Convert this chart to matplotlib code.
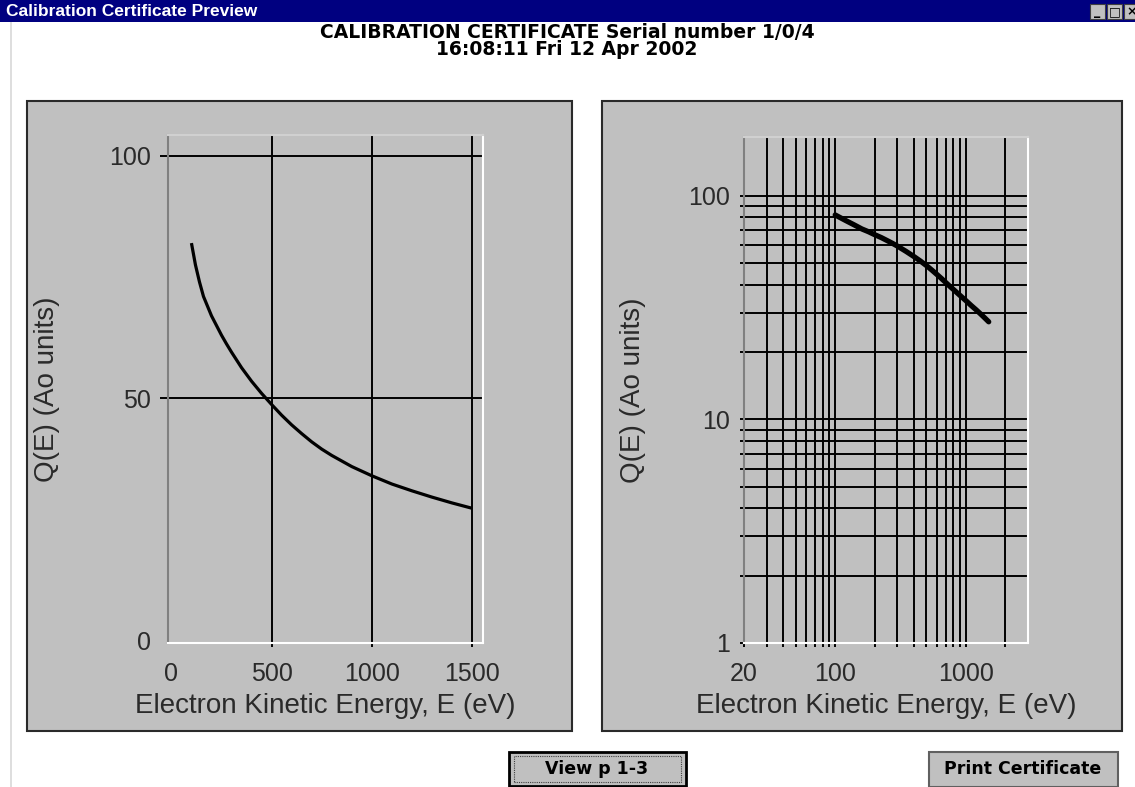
import matplotlib.pyplot as plt
from matplotlib.patches import Rectangle
import numpy as np

plt.rcParams['font.family'] = ['Liberation Sans', 'DejaVu Sans']

# calibration data
energy = [100, 120, 140, 160, 180, 200, 225, 250, 275, 300, 350, 400, 450,
          500, 550, 600, 650, 700, 750, 800, 900, 1000, 1100, 1200, 1300,
          1400, 1500]
q_e = [82, 77.5, 74, 71, 69, 67, 65, 63, 61.2, 59.5, 56.3, 53.5, 51,
       48.7, 46.5, 44.5, 42.7, 41.0, 39.5, 38.2, 35.9, 34, 32.3, 30.9, 29.6,
       28.4, 27.3]

lin_xticks = [0, 500, 1000, 1500]
lin_yticks = [0, 50, 100]
log_xticks = [20, 100, 1000]
log_xminor = [30, 40, 50, 60, 70, 80, 90, 200, 300, 400, 500, 600, 700, 800, 900, 2000]
log_yticks = [1, 10, 100]
log_yminor = [2, 3, 4, 5, 6, 7, 8, 9, 20, 30, 40, 50, 60, 70, 80, 90]

title1 = "CALIBRATION CERTIFICATE Serial number 1/0/4"
title2 = "16:08:11 Fri 12 Apr 2002"
xlab = "Electron Kinetic Energy, E (eV)"
ylab = "Q(E) (Ao units)"

W, H = 1135, 787
fig = plt.figure(figsize=(W / 100, H / 100), dpi=100)
fig.patch.set_facecolor('white')


def box(x0, y0, x1, y1):
    # pixel box (top-left origin) -> figure fraction rect
    return [x0 / W, 1 - y1 / H, (x1 - x0) / W, (y1 - y0) / H]


def frect(x0, y0, x1, y1, z=-1, **kw):
    b = box(x0, y0, x1, y1)
    fig.patches.append(Rectangle((b[0], b[1]), b[2], b[3],
                                 transform=fig.transFigure, zorder=z, **kw))


# window title bar
frect(0, 0, W, 22, facecolor='#000080', edgecolor='none')
fig.text(6 / W, 1 - 11 / H, "Calibration Certificate Preview", color='white',
         fontsize=12.5, fontweight='bold', va='center', ha='left')
for i, g in enumerate(['_', '□', '×']):
    x0 = 1090 + i * 17
    frect(x0, 4, x0 + 15, 19, facecolor='#c0c0c0', edgecolor='#404040', lw=0.8)
    fig.text((x0 + 7.5) / W, 1 - 11.5 / H, g, fontsize=9, fontweight='bold',
             ha='center', va='center', color='black',
             family=['DejaVu Sans'])
# thin frame line at left
fig.add_artist(plt.Line2D([11 / W, 11 / W], [0, 1 - 22 / H],
                          transform=fig.transFigure, color='#d8d8d8', lw=1.2,
                          zorder=-2))

bold = ['DejaVu Sans']
fig.text(567 / W, 1 - 41 / H, title1 + "\n" + title2, fontsize=13.5,
         fontweight='bold', ha='center', va='center', multialignment='center',
         linespacing=0.85, family=bold)

# grey panels
frect(27, 101, 572, 731, facecolor='#c0c0c0', edgecolor='#2a2a2a', lw=1.5)
frect(602, 101, 1122, 731, facecolor='#c0c0c0', edgecolor='#2a2a2a', lw=1.5)

txt = '#2a2a2a'


def style(ax):
    ax.set_facecolor('#c0c0c0')
    ax.spines['left'].set_color('#808080')
    ax.spines['top'].set_color('#d0d0d0')
    ax.spines['right'].set_color('white')
    ax.spines['bottom'].set_color('white')
    for s in ax.spines.values():
        s.set_linewidth(1.5)
        s.set_zorder(3)
    ax.set_axisbelow(True)


# ---- left: linear
ax1 = fig.add_axes(box(168, 135, 483, 643))
style(ax1)
ax1.plot(energy, q_e, color='black', lw=2.3, solid_capstyle='butt', zorder=4)
ax1.set_xlim(-17, 1555)
ax1.set_ylim(-0.5, 104.3)
ax1.set_xticks(lin_xticks)
ax1.set_yticks(lin_yticks)
ax1.grid(True, color='black', lw=1.4)
ax1.tick_params(axis='x', direction='out', length=3, width=1.4, color='black',
                labelsize=18, labelcolor=txt, pad=10.5)
ax1.tick_params(axis='y', direction='out', length=6, width=1.4, color='black',
                labelsize=18, labelcolor=txt, pad=6)
for t in (ax1.xaxis.get_major_ticks()[0], ax1.yaxis.get_major_ticks()[0]):
    t.tick1line.set_visible(False)
    t.gridline.set_visible(False)
ax1.set_xlabel(xlab, fontsize=20, color=txt)
ax1.set_ylabel(ylab, fontsize=20, color=txt)
ax1.xaxis.set_label_coords(0.5, (643 - 706) / 508)
ax1.xaxis.label.set_va('center')
ax1.yaxis.set_label_coords((47 - 168) / 315, 0.5)
ax1.yaxis.label.set_va('center')

# ---- right: log-log
ax2 = fig.add_axes(box(744, 137, 1028, 643))
style(ax2)
ax2.set_xscale('log')
ax2.set_yscale('log')
ax2.plot(energy, q_e, color='black', lw=3.8, solid_capstyle='round', zorder=4)
ax2.set_xlim(20, 3000)
ax2.set_ylim(1, 183)
ax2.set_xticks(log_xticks)
ax2.set_xticklabels([str(v) for v in log_xticks])
ax2.set_xticks(log_xminor, minor=True)
ax2.set_yticks(log_yticks)
ax2.set_yticklabels([str(v) for v in log_yticks])
ax2.set_yticks(log_yminor, minor=True)
ax2.xaxis.set_minor_formatter(plt.NullFormatter())
ax2.yaxis.set_minor_formatter(plt.NullFormatter())
ax2.grid(True, which='both', color='black', lw=1.4)
ax2.tick_params(axis='both', which='both', direction='out', length=3,
                width=1.4, color='black')
ax2.tick_params(axis='x', labelsize=18, labelcolor=txt, pad=10.5)
ax2.tick_params(axis='y', labelsize=18, labelcolor=txt, pad=7)
ax2.set_xlabel(xlab, fontsize=20, color=txt)
ax2.set_ylabel(ylab, fontsize=20, color=txt)
ax2.xaxis.set_label_coords(0.5, (643 - 706) / 506)
ax2.xaxis.label.set_va('center')
ax2.yaxis.set_label_coords((633 - 744) / 284, 0.5)
ax2.yaxis.label.set_va('center')

# ---- buttons
frect(509, 752, 686, 786, facecolor='#c0c0c0', edgecolor='black', lw=2)
frect(514, 756, 681, 782, facecolor='none', edgecolor='#404040', lw=0.8,
      linestyle=(0, (1, 1)))
fig.text(597 / W, 1 - 769 / H, "View p 1-3", fontsize=12.5, fontweight='bold',
         ha='center', va='center', family=bold)
frect(929, 752, 1118, 787, facecolor='#c0c0c0', edgecolor='#606060', lw=1.5)
fig.text(1023 / W, 1 - 769 / H, "Print Certificate", fontsize=12.5,
         fontweight='bold', ha='center', va='center', family=bold)

fig.savefig('out.png', dpi=100)
